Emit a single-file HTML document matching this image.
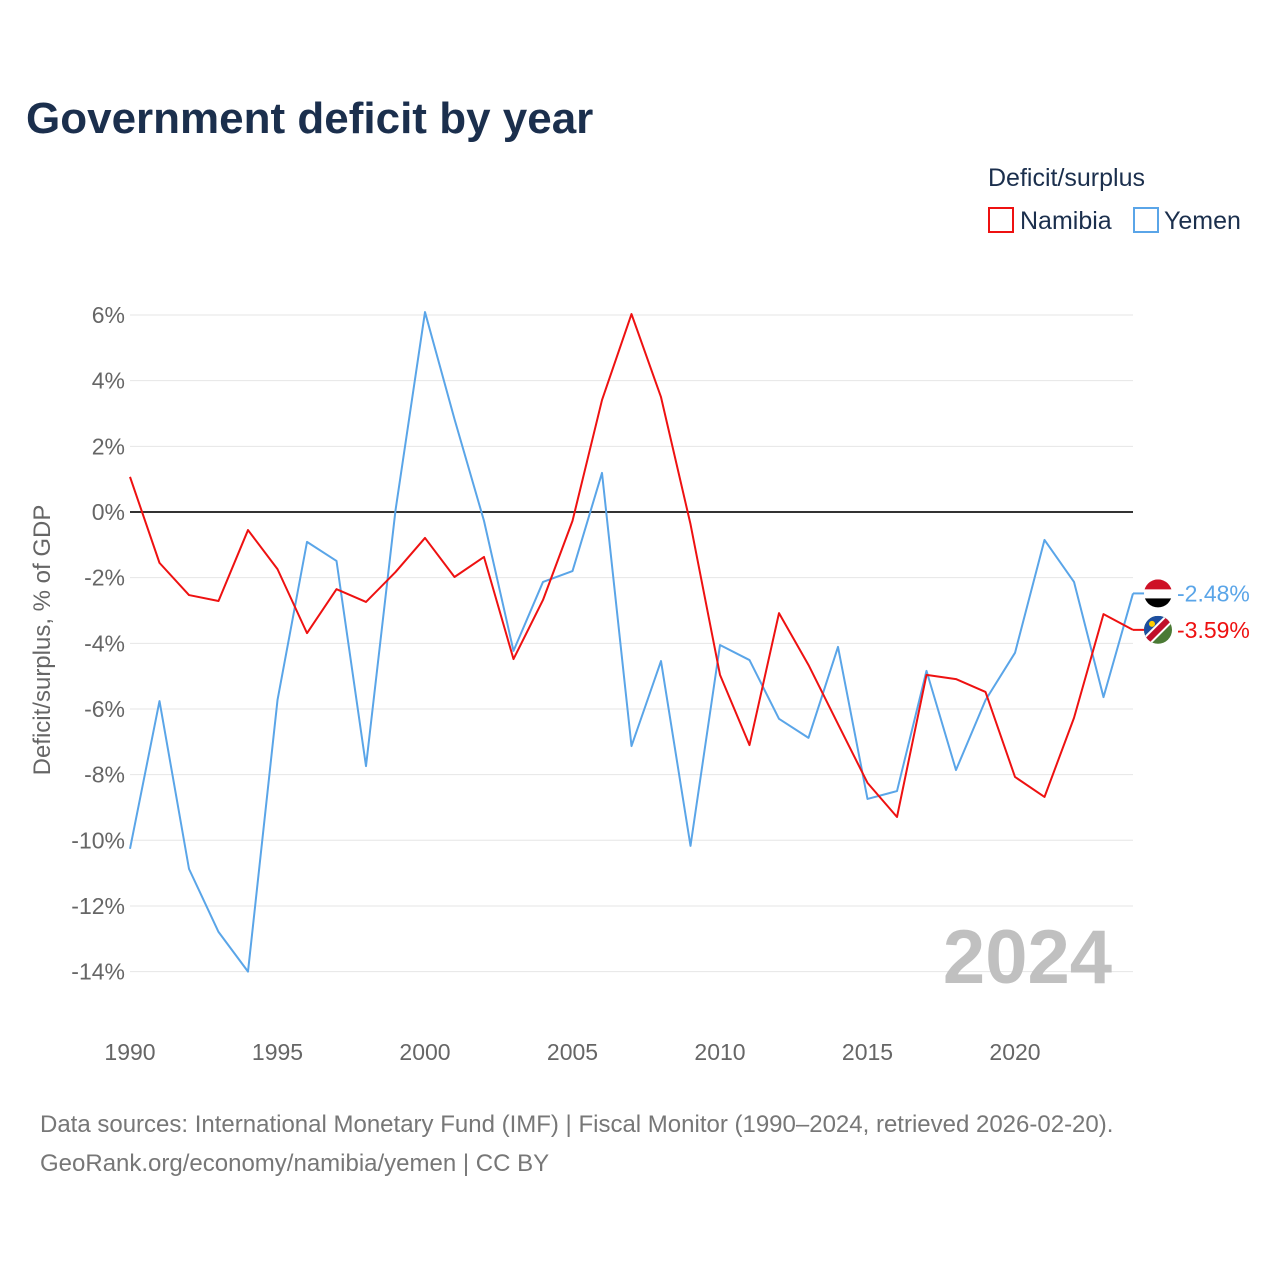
<!DOCTYPE html>
<html><head><meta charset="utf-8"><style>
body{margin:0;background:#fff;font-family:"Liberation Sans",sans-serif;}
#wrap{position:relative;width:1280px;height:1280px;overflow:hidden;}
</style></head><body>
<div id="wrap">
<svg id="chart" width="1280" height="1280">
<text x="26" y="133" font-size="44" font-weight="bold" fill="#1b2f4d">Government deficit by year</text>
<text x="988" y="186" font-size="25" fill="#1b2f4d">Deficit/surplus</text>
<g><rect x="989" y="208" width="24" height="24" fill="none" stroke="#ee1111" stroke-width="2"/><text x="1020" y="229" font-size="25" fill="#1b2f4d">Namibia</text></g>
<g><rect x="1134" y="208" width="24" height="24" fill="none" stroke="#5aa5e8" stroke-width="2"/><text x="1164" y="229" font-size="25" fill="#1b2f4d">Yemen</text></g>
<text transform="translate(50,640) rotate(-90)" text-anchor="middle" font-size="24" fill="#666">Deficit/surplus, % of GDP</text>
<g id="grid"></g><g id="lines"></g>
<text x="1112" y="983" text-anchor="end" font-size="76" font-weight="bold" fill="#c0c0c0">2024</text>
<text x="40" y="1132" font-size="24" fill="#777">Data sources: International Monetary Fund (IMF) | Fiscal Monitor (1990–2024, retrieved 2026-02-20).</text>
<text x="40" y="1171" font-size="24" fill="#777">GeoRank.org/economy/namibia/yemen | CC BY</text>
</svg></div>
<script>
const years=[];for(let y=1990;y<=2024;y++)years.push(y);
const namibia=[1.07,-1.55,-2.53,-2.71,-0.55,-1.74,-3.69,-2.35,-2.74,-1.83,-0.79,-1.98,-1.37,-4.48,-2.68,-0.27,3.41,6.03,3.5,-0.37,-4.96,-7.1,-3.08,-4.66,-6.46,-8.25,-9.29,-4.96,-5.09,-5.48,-8.07,-8.68,-6.27,-3.11,-3.59];
const yemen=[-10.26,-5.76,-10.87,-12.79,-14.0,-5.73,-0.91,-1.49,-7.74,0.05,6.09,2.83,-0.27,-4.23,-2.13,-1.8,1.19,-7.13,-4.54,-10.17,-4.05,-4.51,-6.3,-6.88,-4.11,-8.74,-8.5,-4.84,-7.86,-5.73,-4.29,-0.85,-2.13,-5.64,-2.48];
const yTicks=[6,4,2,0,-2,-4,-6,-8,-10,-12,-14];
const xTicks=[1990,1995,2000,2005,2010,2015,2020];
const NS="http://www.w3.org/2000/svg";
const X=v=>130+(v-1990)*(1133-130)/34;
const Y=v=>512-v*32.83;
function mk(t,a,p){const e=document.createElementNS(NS,t);for(const k in a)e.setAttribute(k,a[k]);p.appendChild(e);return e;}
const grid=document.getElementById('grid'),lines=document.getElementById('lines');
yTicks.forEach(t=>{
 const l=mk('line',{x1:130,x2:1133,y1:Y(t),y2:Y(t),stroke:t===0?'#333':'#e6e6e6','stroke-width':t===0?2:1},grid);
 
 
 const tx=mk('text',{x:125,y:Y(t)+8,'text-anchor':'end','font-size':23,fill:'#666'},grid);
 tx.textContent=t+'%';
 
 
});
xTicks.forEach(t=>{
 const tx=mk('text',{x:X(t),y:1060,'text-anchor':'middle','font-size':23,fill:'#666'},grid);
 tx.textContent=t;
 
 
});
function series(vals,color,name){
 const p=mk('polyline',{points:vals.map((v,i)=>X(years[i])+','+Y(v)).join(' '),fill:'none',stroke:color,'stroke-width':2,'stroke-linejoin':'round'},lines);
 
 
}
series(yemen,'#5aa5e8','yemen-line');
series(namibia,'#ee1111','namibia-line');
function endLabel(vals,color,name,flag){
 const v=vals[vals.length-1];const x=X(2024),y=Y(v);
 mk('line',{x1:x,x2:x+14,y1:y,y2:y,stroke:color,'stroke-width':2},lines);
 const g=mk('g',{},lines);
 
 
 const cx=1158,cy=y;
 const cp=mk('clipPath',{id:'c'+name},g);mk('circle',{cx:cx,cy:cy,r:14},cp);
 const fg=mk('g',{'clip-path':'url(#c'+name+')'},g);
 if(flag==='ye'){
  mk('rect',{x:cx-14,y:cy-14,width:28,height:10,fill:'#ce1126'},fg);
  mk('rect',{x:cx-14,y:cy-4,width:28,height:9,fill:'#fff'},fg);
  mk('rect',{x:cx-14,y:cy+5,width:28,height:10,fill:'#000'},fg);
 } else {
  mk('rect',{x:cx-14,y:cy-14,width:28,height:28,fill:'#4b7a35'},fg);
  mk('polygon',{points:`${cx-14},${cy-14} ${cx+14},${cy-14} ${cx-14},${cy+14}`,fill:'#1d4fa0'},fg);
  mk('line',{x1:cx-16,y1:cy+16,x2:cx+16,y2:cy-16,stroke:'#fff','stroke-width':10},fg);
  mk('line',{x1:cx-16,y1:cy+16,x2:cx+16,y2:cy-16,stroke:'#c0102a','stroke-width':6},fg);
  mk('circle',{cx:cx-6,cy:cy-6,r:3,fill:'#ffce00'},fg);
 }
 const t=mk('text',{x:1177,y:y+8,'font-size':23,fill:color},lines);
 t.textContent=v.toFixed(2)+'%';
 
 
}
endLabel(yemen,'#5aa5e8','yemen','ye');
endLabel(namibia,'#ee1111','namibia','na');
</script>
</body></html>
